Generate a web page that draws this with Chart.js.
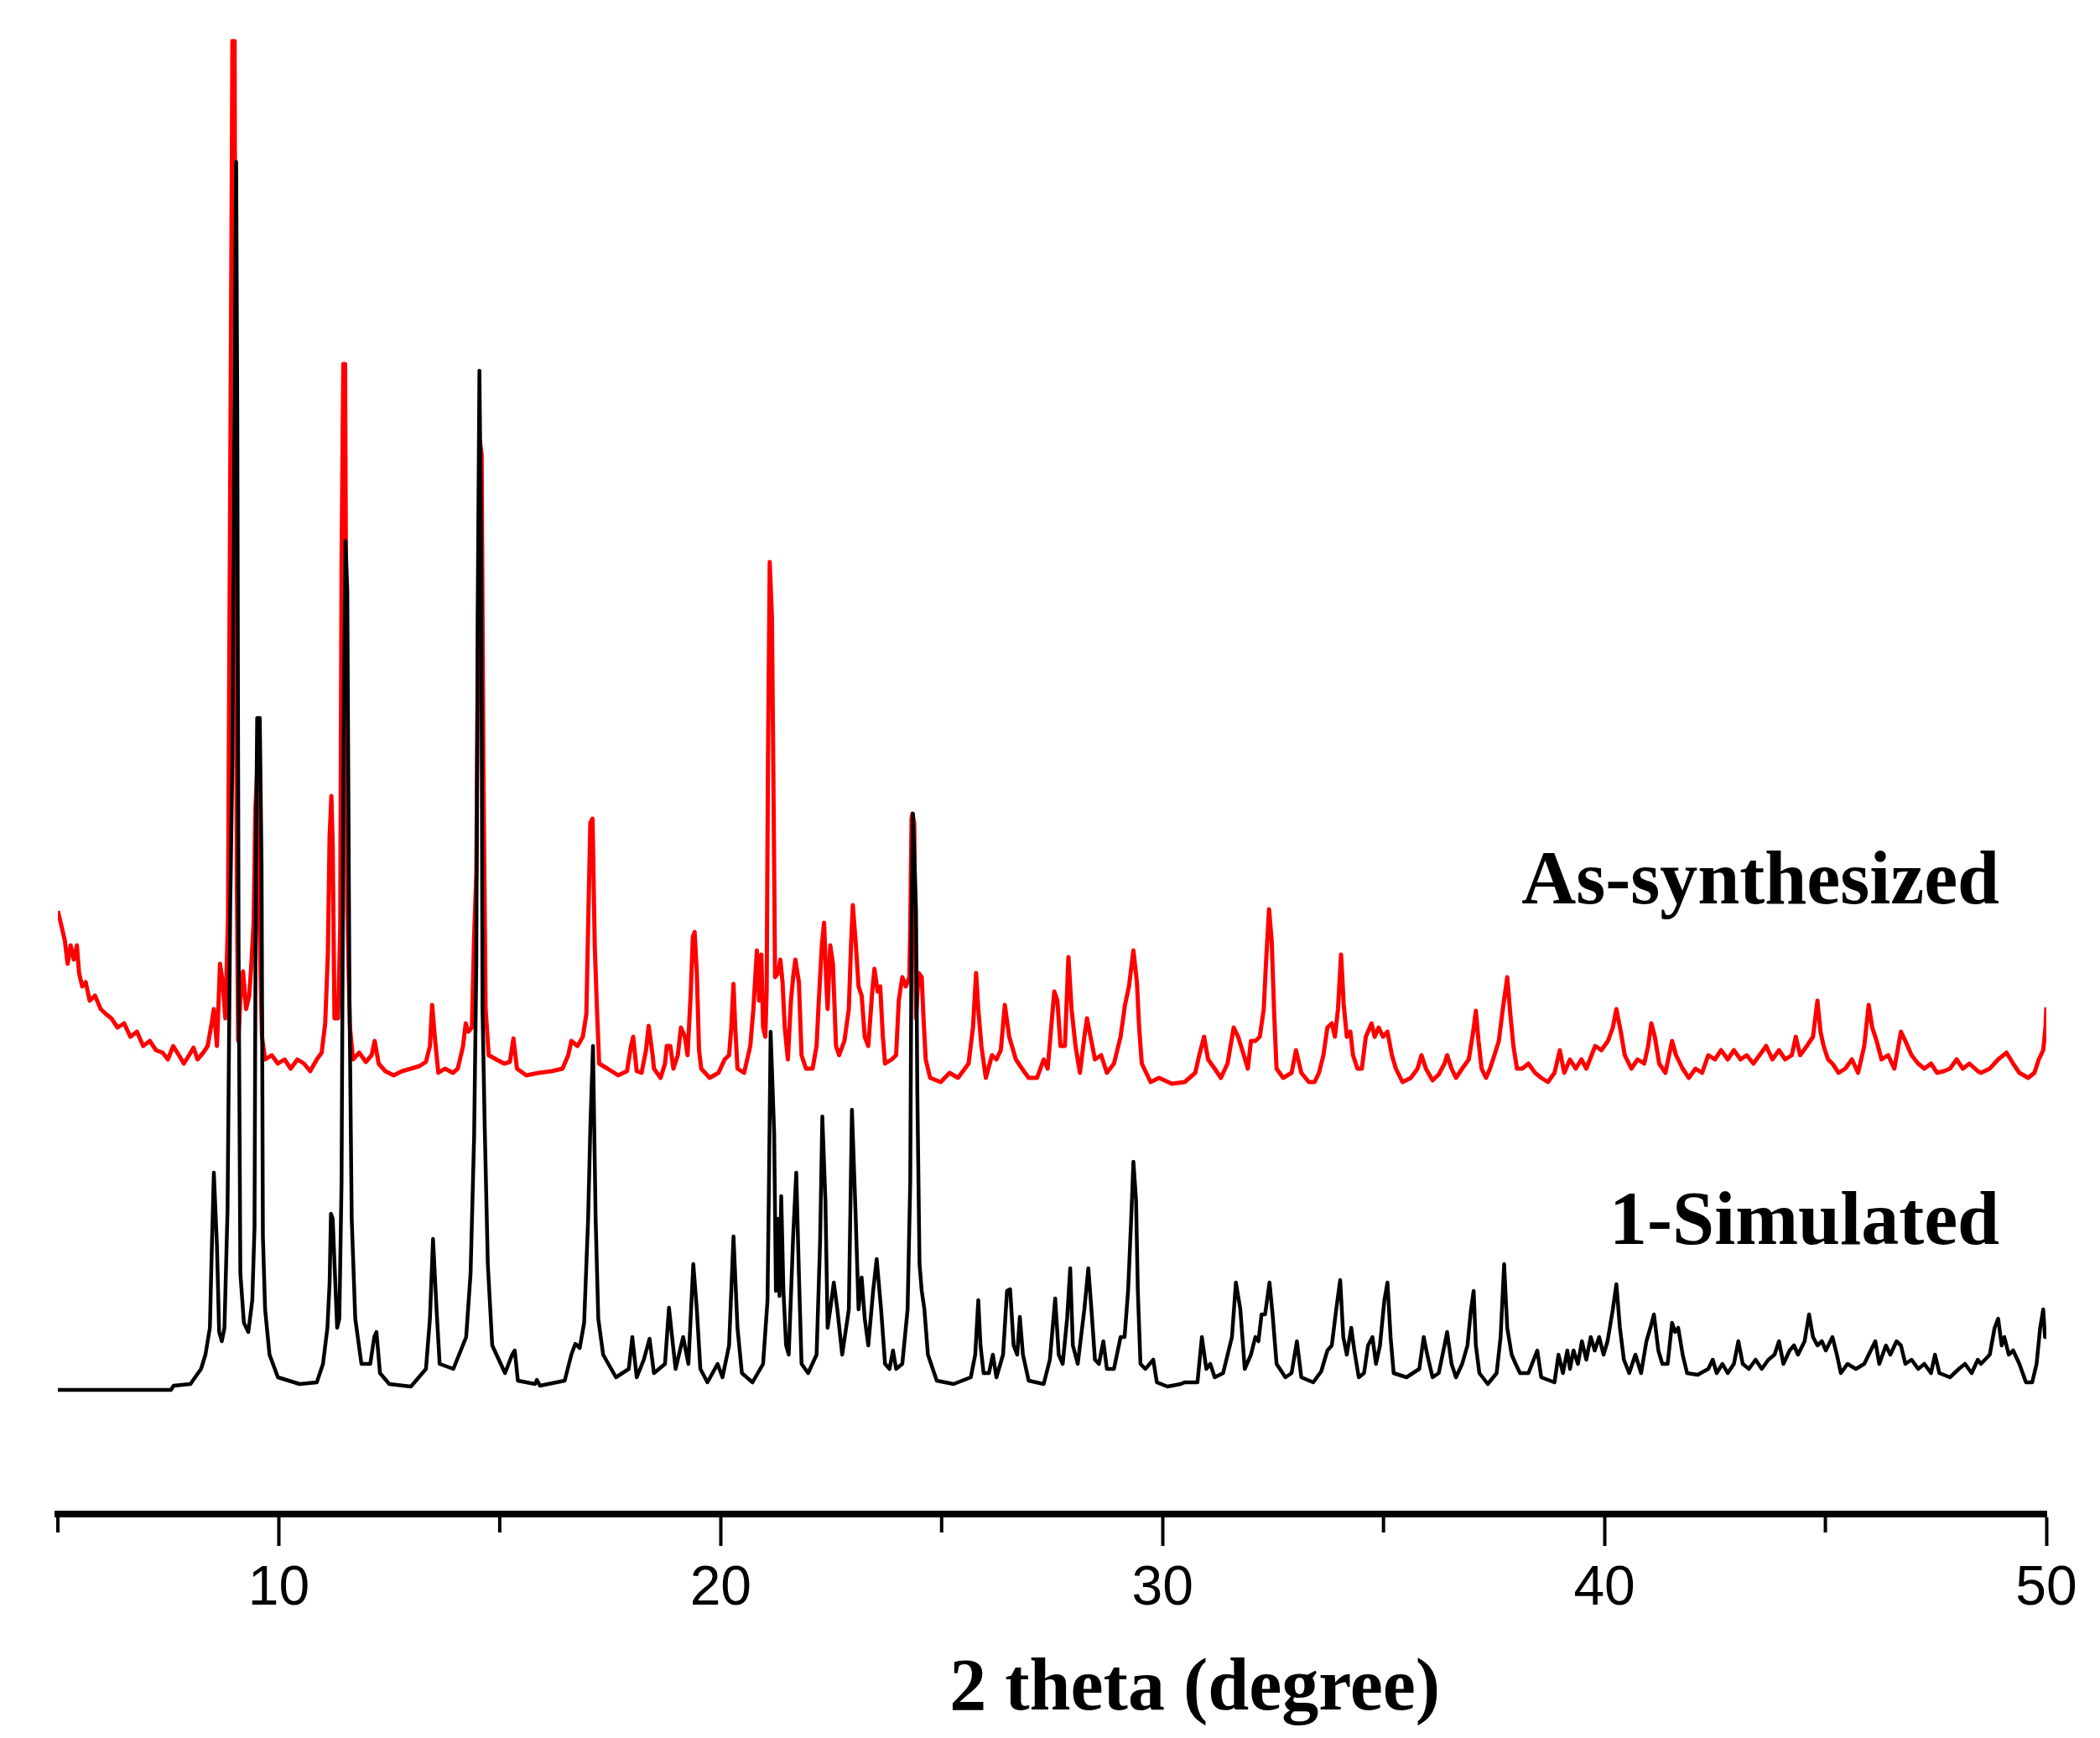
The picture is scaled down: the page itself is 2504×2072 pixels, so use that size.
<!DOCTYPE html>
<html>
<head>
<meta charset="utf-8">
<script src="https://cdn.jsdelivr.net/npm/chart.js@4.4.1/dist/chart.umd.min.js"></script>
<style>
  html, body { margin: 0; padding: 0; background: #ffffff; }
  #wrap { width: 2504px; height: 2072px; }
</style>
</head>
<body>
<div id="wrap"><canvas id="c" width="2504" height="2072"></canvas></div>
<script>
// ---------- data ----------
// 1-Simulated pattern (black): 2 theta and intensity (arbitrary units, offset stacked)
const simTheta = [5.0,7.56,7.62,8.0,8.24,8.34,8.44,8.48,8.53,8.6,8.65,8.71,8.77,8.84,8.9,8.95,9.0,9.035,9.06,9.09,9.13,9.21,9.31,9.4,9.45,9.48,9.51,9.57,9.61,9.64,9.69,9.79,9.98,10.47,10.86,11.0,11.1,11.15,11.18,11.22,11.27,11.32,11.37,11.42,11.47,11.51,11.55,11.6,11.65,11.73,11.87,12.07,12.16,12.21,12.29,12.5,12.99,13.33,13.42,13.49,13.57,13.64,13.95,14.24,14.34,14.42,14.47,14.5,14.54,14.58,14.61,14.66,14.73,14.83,15.12,15.28,15.34,15.41,15.8,15.84,15.91,16.47,16.62,16.71,16.81,16.91,17.0,17.05,17.11,17.17,17.23,17.34,17.63,17.92,18.0,18.1,18.26,18.39,18.49,18.74,18.83,18.9,18.98,19.15,19.27,19.38,19.46,19.54,19.7,19.93,20.04,20.19,20.29,20.38,20.48,20.72,20.96,21.06,21.09,21.13,21.21,21.25,21.3,21.33,21.37,21.42,21.48,21.54,21.64,21.71,21.77,21.83,21.98,22.17,22.25,22.3,22.37,22.42,22.48,22.56,22.64,22.75,22.9,22.97,23.05,23.12,23.19,23.26,23.34,23.45,23.53,23.63,23.72,23.82,23.9,23.97,24.11,24.23,24.29,24.32,24.35,24.42,24.45,24.5,24.55,24.61,24.69,24.89,25.27,25.66,25.76,25.83,25.88,25.95,26.07,26.16,26.24,26.39,26.48,26.55,26.63,26.71,26.77,26.84,26.97,27.31,27.45,27.57,27.65,27.74,27.84,27.91,27.97,28.08,28.23,28.32,28.39,28.47,28.56,28.66,28.74,28.9,29.05,29.14,29.22,29.29,29.34,29.4,29.44,29.5,29.61,29.79,29.87,30.11,30.41,30.5,30.79,30.89,30.99,31.08,31.18,31.37,31.57,31.66,31.76,31.86,32.0,32.1,32.17,32.24,32.32,32.42,32.49,32.58,32.78,32.92,33.04,33.14,33.41,33.59,33.73,33.83,33.93,34.02,34.09,34.17,34.27,34.34,34.44,34.56,34.65,34.75,34.83,34.92,35.02,35.09,35.16,35.23,35.52,35.81,35.91,35.99,36.11,36.25,36.38,36.44,36.54,36.64,36.78,36.9,36.98,37.04,37.09,37.17,37.36,37.56,37.65,37.73,37.8,37.9,37.99,38.09,38.28,38.48,38.57,38.87,38.96,39.06,39.16,39.22,39.3,39.4,39.49,39.59,39.69,39.78,39.88,39.98,40.07,40.19,40.27,40.35,40.44,40.56,40.7,40.83,40.95,41.04,41.12,41.22,41.31,41.43,41.53,41.6,41.67,41.77,41.87,42.11,42.35,42.45,42.54,42.67,42.79,42.93,43.03,43.13,43.27,43.42,43.56,43.71,43.85,43.95,44.05,44.19,44.29,44.38,44.53,44.63,44.72,44.82,44.92,45.01,45.16,45.26,45.35,45.5,45.69,45.88,45.98,46.13,46.22,46.37,46.47,46.61,46.71,46.81,46.95,47.1,47.24,47.39,47.48,47.58,47.82,48.02,48.16,48.31,48.45,48.52,48.72,48.83,48.91,48.99,49.05,49.15,49.25,49.39,49.54,49.68,49.78,49.86,49.93,49.97,50.0];
const simIntensity = [148,148,153,155,173,190,222,309,407,320,217,206,222,363,721,900,1350,1612,1317,672,287,228,217,255,341,764,949,949,770,331,244,190,163,155,157,179,222,276,358,352,287,222,233,396,938,1160,1100,612,352,233,179,179,211,217,168,155,152,173,233,328,244,179,173,211,287,450,656,1068,1363,1155,602,461,298,201,168,190,195,159,155,160,153,159,190,203,198,228,352,461,558,352,233,190,163,173,211,163,184,209,168,179,246,211,173,211,179,298,244,173,157,179,163,201,331,222,168,157,179,255,385,575,455,266,352,260,379,266,201,190,331,407,287,179,168,190,325,474,374,222,244,276,244,190,244,482,363,244,282,233,201,266,304,244,179,173,195,173,179,244,396,699,835,721,504,298,266,244,190,159,155,163,190,255,201,168,168,190,163,190,266,268,201,190,235,190,159,155,184,257,190,179,233,293,201,179,244,293,244,184,179,206,173,173,211,211,266,352,420,374,266,179,173,184,157,152,155,157,157,211,173,179,163,168,211,276,244,173,190,211,206,238,238,276,238,179,163,168,206,163,157,170,195,201,244,279,211,190,222,195,163,168,201,211,179,201,255,276,211,168,163,173,211,190,163,168,201,217,179,163,179,201,244,266,201,168,155,168,211,298,222,190,179,168,168,195,163,157,190,168,195,173,195,179,206,184,211,195,211,190,206,244,274,222,184,168,190,168,206,222,238,195,179,179,228,217,222,190,168,166,173,184,168,179,168,179,206,179,173,184,173,184,190,206,179,195,201,190,206,238,211,201,206,195,211,190,168,179,173,179,190,206,179,201,190,206,201,179,184,173,179,168,190,168,163,173,179,168,184,179,190,222,233,201,211,190,195,179,157,157,179,222,244,211,211];

// As-synthesized pattern (red)
const asTheta = [5.0,5.1,5.16,5.22,5.29,5.36,5.43,5.48,5.55,5.63,5.72,5.84,5.97,6.09,6.21,6.35,6.5,6.64,6.79,6.93,7.08,7.22,7.37,7.49,7.61,7.74,7.85,7.97,8.07,8.16,8.29,8.39,8.48,8.53,8.6,8.67,8.73,8.79,8.85,8.89,8.93,8.95,9.0,9.02,9.05,9.08,9.13,9.19,9.26,9.33,9.38,9.43,9.47,9.51,9.56,9.62,9.69,9.84,9.98,10.13,10.27,10.42,10.57,10.71,10.86,10.97,11.05,11.11,11.15,11.19,11.22,11.26,11.34,11.39,11.42,11.46,11.5,11.55,11.61,11.68,11.82,11.97,12.1,12.17,12.26,12.41,12.6,12.79,12.99,13.18,13.33,13.42,13.47,13.53,13.61,13.76,13.94,14.05,14.17,14.23,14.29,14.37,14.42,14.47,14.51,14.55,14.59,14.63,14.68,14.75,14.92,15.1,15.23,15.31,15.39,15.6,15.89,16.18,16.42,16.55,16.62,16.76,16.88,16.96,17.0,17.05,17.1,17.15,17.2,17.25,17.44,17.68,17.88,17.97,18.02,18.1,18.21,18.31,18.37,18.46,18.49,18.64,18.74,18.78,18.86,18.93,19.03,19.1,19.19,19.25,19.32,19.37,19.41,19.46,19.51,19.56,19.75,19.95,20.09,20.19,20.24,20.29,20.33,20.38,20.53,20.67,20.74,20.82,20.87,20.92,20.96,21.01,21.04,21.07,21.11,21.16,21.21,21.23,21.3,21.35,21.4,21.45,21.52,21.59,21.64,21.69,21.77,21.83,21.93,22.08,22.17,22.22,22.29,22.34,22.39,22.42,22.48,22.54,22.61,22.68,22.8,22.9,22.95,22.99,23.06,23.12,23.19,23.26,23.34,23.43,23.48,23.55,23.61,23.67,23.72,23.87,23.97,24.03,24.11,24.19,24.27,24.29,24.32,24.34,24.38,24.42,24.48,24.55,24.59,24.64,24.74,24.98,25.18,25.37,25.61,25.71,25.78,25.83,25.9,26.0,26.14,26.24,26.34,26.43,26.53,26.68,26.82,26.97,27.16,27.31,27.4,27.48,27.55,27.62,27.69,27.79,27.87,27.94,28.03,28.13,28.23,28.29,28.37,28.47,28.61,28.74,28.9,29.05,29.15,29.24,29.34,29.42,29.47,29.53,29.73,29.92,30.21,30.5,30.74,30.83,30.94,31.03,31.18,31.32,31.47,31.61,31.71,31.84,31.93,32.0,32.1,32.2,32.29,32.34,32.41,32.47,32.53,32.58,32.73,32.92,33.02,33.14,33.31,33.44,33.54,33.64,33.73,33.83,33.9,33.97,34.04,34.1,34.17,34.25,34.31,34.41,34.51,34.6,34.73,34.8,34.89,34.99,35.09,35.19,35.28,35.43,35.62,35.77,35.86,35.96,36.11,36.25,36.38,36.44,36.54,36.64,36.78,36.93,37.03,37.09,37.15,37.22,37.32,37.41,37.51,37.61,37.7,37.8,37.87,37.94,38.02,38.14,38.28,38.43,38.57,38.72,38.87,38.99,39.09,39.22,39.35,39.48,39.59,39.79,39.93,40.08,40.19,40.27,40.37,40.46,40.61,40.75,40.9,40.99,41.06,41.14,41.24,41.38,41.53,41.62,41.77,41.91,42.06,42.21,42.35,42.5,42.64,42.79,42.93,43.08,43.22,43.37,43.51,43.66,43.8,43.95,44.09,44.24,44.33,44.43,44.58,44.72,44.82,44.89,44.96,45.06,45.16,45.3,45.45,45.6,45.74,45.88,45.98,46.06,46.16,46.27,46.42,46.56,46.71,46.81,46.95,47.1,47.24,47.39,47.53,47.68,47.82,47.97,48.11,48.26,48.45,48.52,48.72,48.91,49.1,49.25,49.39,49.59,49.73,49.83,49.93,49.98,50.0];
const asIntensity = [719,697,683,656,678,661,678,645,629,634,612,618,602,596,591,580,585,569,575,558,564,553,550,542,558,547,537,547,556,542,550,558,585,602,558,656,634,591,710,1122,1534,1756,1756,1263,764,564,612,647,602,618,656,705,840,886,710,569,542,547,537,542,531,542,537,528,542,550,585,667,808,856,797,591,591,699,1133,1371,1371,721,580,542,550,539,547,564,537,528,523,528,531,534,539,558,607,569,526,531,526,531,558,585,575,580,688,764,1046,1279,1263,889,602,547,542,537,539,567,531,523,526,528,531,547,564,558,569,596,699,824,829,678,602,537,531,523,528,558,569,528,526,553,582,547,531,520,537,558,558,531,547,580,569,547,618,688,694,645,553,531,520,526,542,547,580,632,580,531,526,558,602,672,612,667,580,569,623,894,1135,1068,775,640,645,661,634,580,542,612,640,661,634,547,531,531,558,612,678,705,634,602,678,656,558,547,564,602,678,726,678,629,618,569,558,623,650,623,629,569,537,542,547,612,640,629,640,699,829,835,824,591,645,640,591,542,520,515,526,520,537,580,645,602,558,520,547,542,553,607,569,542,531,520,520,542,531,580,623,612,558,558,664,602,558,526,569,591,569,542,547,526,537,569,607,629,672,634,580,537,515,520,513,515,526,547,569,542,531,520,537,580,569,547,531,564,564,569,602,656,721,683,591,531,520,526,553,526,515,515,526,547,580,585,569,602,667,607,569,575,547,531,531,569,585,569,580,569,575,547,531,515,520,531,547,531,517,524,537,547,531,520,531,542,575,600,564,531,520,531,547,564,602,640,596,558,531,531,537,526,520,515,526,553,526,542,531,542,531,558,553,564,580,602,575,547,531,542,537,558,585,569,537,526,564,547,531,520,531,526,547,542,553,542,553,542,547,537,547,558,542,553,542,547,569,547,558,569,612,575,558,542,537,526,531,542,526,558,607,580,564,542,547,531,575,564,547,537,531,537,526,528,531,542,531,537,528,526,531,542,550,537,526,520,526,542,553,580,604];

// axis
const xMin = 5, xMax = 50, yMin = 0, yMax = 1760;
const majorTicks = [10, 20, 30, 40, 50];
const minorTicks = [5, 15, 25, 35, 45];
const seriesNames = ['1-Simulated', 'As-synthesized'];
const axisTitle = '2 theta (degree)';

// ---------- chart ----------
const toXY = (xs, ys) => xs.map((x, i) => ({ x: x, y: ys[i] }));

const overlay = {
  id: 'overlay',
  afterDraw(chart) {
    const ctx = chart.ctx, xs = chart.scales.x, ys = chart.scales.y, area = chart.chartArea;
    ctx.save();
    // minor ticks
    ctx.strokeStyle = '#000';
    ctx.lineWidth = 4;
    minorTicks.forEach(v => {
      const px = xs.getPixelForValue(v);
      ctx.beginPath();
      ctx.moveTo(px, area.bottom);
      ctx.lineTo(px, area.bottom + 22);
      ctx.stroke();
    });
    // series labels
    ctx.fillStyle = '#000';
    ctx.font = 'bold 90px "Liberation Serif", "Times New Roman", serif';
    ctx.textAlign = 'right';
    ctx.textBaseline = 'alphabetic';
    ctx.fillText(seriesNames[1], xs.getPixelForValue(48.94), ys.getPixelForValue(728));
    ctx.fillText(seriesNames[0], xs.getPixelForValue(48.94), ys.getPixelForValue(322));
    // axis title
    ctx.textAlign = 'center';
    ctx.font = 'bold 88px "Liberation Serif", "Times New Roman", serif';
    ctx.fillText(axisTitle, xs.getPixelForValue(30.73), area.bottom + 233);
    ctx.restore();
  }
};

new Chart(document.getElementById('c'), {
  type: 'line',
  data: {
    datasets: [
      {
        label: seriesNames[0],
        data: toXY(simTheta, simIntensity),
        borderColor: '#000000',
        borderWidth: 4.5,
        pointRadius: 0,
        tension: 0,
        fill: false,
        order: 0,
        borderJoinStyle: 'round'
      },
      {
        label: seriesNames[1],
        data: toXY(asTheta, asIntensity),
        borderColor: '#ff0000',
        borderWidth: 5,
        pointRadius: 0,
        tension: 0,
        fill: false,
        order: 1,
        borderJoinStyle: 'round'
      }
    ]
  },
  options: {
    responsive: false,
    devicePixelRatio: 1,
    animation: false,
    layout: { padding: { left: 69, right: 64, top: 45, bottom: 0 } },
    plugins: {
      legend: { display: false },
      tooltip: { enabled: false },
      title: { display: false }
    },
    scales: {
      x: {
        type: 'linear',
        min: xMin,
        max: xMax,
        afterFit: (scale) => { scale.height = 267; },
        border: { display: true, width: 8, color: '#000' },
        grid: {
          display: true,
          drawOnChartArea: false,
          drawTicks: true,
          tickLength: 38,
          tickWidth: 4,
          tickColor: (c) => (c.tick && majorTicks.includes(c.tick.value)) ? '#000' : 'rgba(0,0,0,0)'
        },
        ticks: {
          stepSize: 5,
          autoSkip: false,
          maxRotation: 0,
          padding: 12,
          color: '#000',
          font: { family: '"Liberation Sans", Arial, sans-serif', size: 66 },
          callback: (v) => majorTicks.includes(v) ? String(v) : ''
        }
      },
      y: {
        display: false,
        min: yMin,
        max: yMax
      }
    }
  },
  plugins: [overlay]
});
</script>
</body>
</html>
